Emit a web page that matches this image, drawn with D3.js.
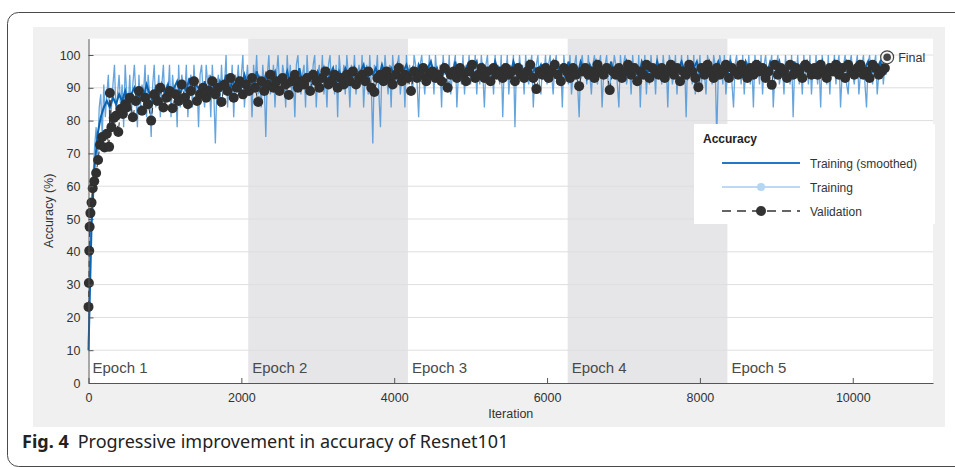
<!DOCTYPE html>
<html>
<head>
<meta charset="utf-8">
<script src="https://cdn.jsdelivr.net/npm/d3@7"></script>
<style>
  body { margin: 0; background: #fff; }
  svg { display: block; }
</style>
</head>
<body>
<svg id="chart" width="955" height="467"></svg>
<script>
// epochs and axes
const epochNames = ['Epoch 1', 'Epoch 2', 'Epoch 3', 'Epoch 4', 'Epoch 5'];
const epochLength = 2090;
const xTicks = [0, 2000, 4000, 6000, 8000, 10000];
const yTicks = [0, 10, 20, 30, 40, 50, 60, 70, 80, 90, 100];

// raw training accuracy, one value every 20 iterations
const trainStep = 20;
const trainAcc = [
    12, 38, 55, 63, 72, 78, 69, 84, 88, 75, 91, 81, 88, 94, 78, 84, 91, 97, 81, 88, 94, 84, 91, 78, 97,
    88, 84, 94, 81, 91, 97, 88, 78, 94, 84, 91, 88, 97, 81, 94, 88, 75, 91, 97, 84, 88, 94, 81, 91, 97,
    84, 91, 88, 97, 81, 94, 88, 91, 78, 97, 84, 94, 91, 88, 97, 81, 91, 94, 84, 97, 88, 91, 78, 94, 97,
    88, 84, 97, 91, 94, 81, 97, 88, 73, 91, 94, 84, 97, 88, 91, 100, 84, 94, 88, 97, 81, 94, 91, 97, 88,
    94, 100, 84, 91, 97, 88, 94, 81, 97, 91, 100, 88, 94, 84, 97, 91, 75, 94, 100, 88, 91, 97, 84, 94, 100,
    91, 88, 97, 94, 84, 100, 91, 97, 88, 94, 81, 97, 100, 91, 88, 94, 97, 84, 100, 91, 94, 88, 97, 100, 84,
    94, 97, 91, 100, 88, 94, 84, 97, 100, 91, 94, 88, 97, 81, 100, 94, 91, 97, 88, 100, 94, 84, 97, 91, 100,
    88, 94, 97, 91, 100, 84, 94, 97, 88, 100, 91, 73, 97, 94, 100, 88, 78, 97, 91, 100, 94, 88, 97, 84, 100,
    94, 91, 97, 100, 88, 94, 97, 84, 100, 91, 97, 94, 88, 100, 97, 91, 81, 97, 100, 94, 88, 97, 91, 100, 94,
    97, 88, 100, 94, 91, 97, 84, 100, 94, 97, 91, 100, 88, 94, 97, 100, 84, 94, 97, 91, 100, 88, 97, 94, 100,
    91, 97, 94, 100, 88, 97, 91, 100, 94, 84, 97, 100, 91, 94, 97, 88, 100, 94, 97, 91, 100, 81, 97, 94, 100,
    88, 97, 94, 100, 78, 97, 91, 100, 94, 97, 88, 100, 94, 91, 97, 100, 84, 94, 97, 100, 91, 88, 97, 94, 100,
    91, 97, 100, 94, 88, 97, 100, 91, 94, 97, 84, 100, 94, 97, 91, 100, 88, 94, 97, 100, 91, 81, 97, 100, 94,
    97, 91, 100, 94, 88, 97, 100, 94, 91, 97, 100, 84, 94, 97, 100, 91, 88, 97, 94, 100, 97, 91, 84, 100, 94,
    97, 100, 91, 94, 97, 88, 100, 94, 97, 91, 100, 84, 97, 94, 100, 88, 97, 91, 100, 94, 97, 88, 100, 94, 97,
    91, 100, 94, 97, 84, 100, 97, 91, 94, 100, 88, 97, 94, 100, 91, 97, 81, 100, 94, 97, 91, 100, 88, 97, 94,
    100, 91, 97, 94, 88, 100, 97, 94, 91, 100, 97, 75, 94, 100, 97, 91, 100, 88, 94, 97, 100, 91, 84, 97, 100,
    94, 97, 91, 100, 88, 97, 94, 100, 91, 97, 84, 100, 94, 97, 91, 100, 88, 97, 100, 94, 91, 97, 100, 84, 94,
    97, 100, 91, 94, 97, 88, 100, 94, 97, 91, 100, 81, 97, 94, 100, 91, 97, 88, 100, 94, 97, 91, 100, 88, 97,
    94, 100, 91, 97, 84, 100, 94, 97, 91, 100, 88, 97, 94, 100, 91, 97, 100, 84, 94, 97, 100, 91, 88, 97, 100,
    94, 91, 97, 100, 88, 94, 97, 100, 91, 84, 97, 100, 94, 91, 97, 100, 88, 94, 97, 100, 91, 97, 94
];

// smoothed training accuracy, one value every 40 iterations
const smoothStep = 40;
const smoothAcc = [
    10, 48, 66, 76, 81, 84, 86, 84, 87, 85, 88, 86, 89, 85, 88, 90, 86, 89, 87, 91, 88, 86, 90, 87, 91,
    88, 91, 87, 90, 92, 88, 91, 89, 93, 88, 91, 90, 87, 92, 89, 93, 90, 88, 92, 90, 94, 89, 92, 91, 93,
    90, 94, 91, 93, 89, 95, 92, 90, 94, 91, 93, 95, 90, 93, 92, 95, 91, 94, 92, 96, 91, 94, 93, 95, 92,
    95, 93, 96, 92, 94, 96, 91, 95, 93, 96, 94, 92, 96, 93, 95, 97, 92, 95, 94, 96, 93, 97, 94, 92, 96,
    94, 97, 93, 95, 97, 94, 96, 92, 97, 95, 93, 96, 98, 94, 96, 93, 97, 95, 96, 94, 98, 93, 96, 95, 97,
    94, 96, 98, 93, 97, 95, 96, 94, 98, 95, 93, 97, 96, 94, 98, 95, 97, 93, 96, 98, 94, 96, 95, 97, 94,
    97, 95, 98, 94, 96, 97, 93, 98, 95, 96, 94, 98, 96, 93, 97, 95, 98, 94, 96, 97, 95, 98, 93, 96, 97,
    95, 98, 94, 96, 97, 93, 98, 96, 95, 97, 94, 98, 95, 96, 93, 98, 97, 94, 96, 98, 95, 93, 97, 96, 98,
    94, 97, 96, 98, 93, 96, 98, 95, 97, 94, 98, 96, 95, 97, 93, 98, 96, 94, 97, 98, 95, 96, 94, 98, 97,
    95, 98, 94, 96, 97, 95, 98, 93, 97, 96, 98, 94, 96, 97, 95, 98, 94, 97, 96, 98, 93, 97, 95, 98, 96,
    94, 97, 98, 95, 96, 98, 94, 97, 96, 98, 95, 97
];

// validation accuracy: first iterations, then every 40 iterations from 500
const valEarlyIter = [0, 5, 10, 15, 25, 40, 55, 75, 100, 125, 150, 180, 210, 240, 270, 280, 300, 330, 360, 390, 420, 450, 480];
const valEarlyAcc = [23.2, 30.5, 40.3, 47.6, 51.8, 55.0, 59.4, 61.5, 64.0, 68.0, 72.6, 75.0, 71.8, 76.0, 72.0, 88.4, 78.0, 80.8, 81.5, 76.5, 83.5, 82.0, 85.0];
const valStart = 500;
const valStep = 40;
const valAcc = [
    84, 87, 81, 86, 89, 83, 87, 85, 80, 88, 86, 90, 84, 87, 89, 83.8, 88, 86, 91, 87, 85, 89, 92, 86, 88,
    90, 87, 89, 92, 88, 90, 85.7, 91, 89, 93, 87, 90, 92, 88, 91, 89, 93, 90, 85.7, 92, 89, 91, 94, 90, 92,
    89, 93, 91, 87.8, 92, 94, 90, 92, 91, 93, 89, 94, 92, 90, 93, 95, 91, 92, 94, 90, 93, 91, 94, 92, 95,
    91, 93, 94, 92, 95, 90, 88.7, 93, 94, 92, 95, 93, 91, 94, 96, 92, 94, 93, 89, 95, 93, 94, 96, 92, 94,
    95, 93, 94, 92, 96, 90, 94, 95, 93, 96, 94, 92, 95, 97, 93, 94, 96, 93, 95, 92, 96, 94, 95, 93, 96,
    94, 95, 92, 96, 94, 93, 95, 97, 93, 89.6, 95, 94, 96, 93, 95, 97, 94, 92, 96, 95, 93, 96, 94, 90.5, 95,
    96, 94, 95, 93, 97, 95, 94, 96, 89.3, 95, 94, 96, 93, 95, 97, 94, 96, 92, 95, 94, 97, 93, 96, 95, 94,
    96, 93, 95, 97, 94, 96, 92, 95, 94, 97, 95, 93, 90.2, 96, 94, 97, 95, 93, 96, 94, 95, 97, 93, 96, 95,
    94, 97, 95, 93, 96, 94, 97, 95, 96, 93, 95, 90.9, 97, 94, 96, 95, 93, 97, 94, 96, 95, 93, 97, 96, 94,
    96, 94, 97, 95, 93, 96, 95, 97, 94, 96, 93, 97, 95, 94, 96, 97, 94, 95, 93, 97, 96, 94, 95, 96
];
const finalIter = 10450;
const finalAcc = 99.3;

const svg = d3.select('#chart');
const font = '"Liberation Sans", Arial, Helvetica, sans-serif';

// figure frame and grey panel
svg.append('rect')
    .attr('x', 7.5).attr('y', 12.5)
    .attr('width', 1000).attr('height', 454)
    .attr('rx', 11)
    .attr('fill', 'none')
    .attr('stroke', '#4a4a4a');

svg.append('rect')
    .attr('x', 33).attr('y', 27)
    .attr('width', 912).attr('height', 400)
    .attr('fill', '#f0f0f0');

const x = d3.scaleLinear().domain([0, 11050]).range([88.5, 933]);
const y = d3.scaleLinear().domain([0, 105]).range([383, 38.6]);

// plot background and epoch bands
svg.append('rect')
    .attr('x', x(0)).attr('y', y(105))
    .attr('width', x(11050) - x(0)).attr('height', y(0) - y(105))
    .attr('fill', '#fff');

svg.append('g')
    .selectAll('rect')
    .data(epochNames)
    .enter()
    .append('rect')
    .attr('x', (d, i) => x(i * epochLength))
    .attr('y', y(105))
    .attr('width', x(epochLength) - x(0))
    .attr('height', y(0) - y(105))
    .attr('fill', (d, i) => (i % 2 === 1 ? '#e6e6e9' : 'none'));

// horizontal grid
svg.append('g')
    .selectAll('line')
    .data(yTicks.filter((d) => d > 0))
    .enter()
    .append('line')
    .attr('x1', x(0)).attr('x2', x(11050))
    .attr('y1', (d) => y(d)).attr('y2', (d) => y(d))
    .attr('stroke', '#dedede')
    .attr('stroke-width', 1);

// training (raw)
const trainLine = d3.line()
    .x((d, i) => x(i * trainStep))
    .y((d) => y(d));
svg.append('path')
    .datum(trainAcc)
    .attr('fill', 'none')
    .attr('stroke', '#4a94d6')
    .attr('stroke-opacity', 0.85)
    .attr('stroke-width', 1.3)
    .attr('d', trainLine);

// training (smoothed)
const smoothLine = d3.line()
    .x((d, i) => x(i * smoothStep))
    .y((d) => y(d));
svg.append('path')
    .datum(smoothAcc)
    .attr('fill', 'none')
    .attr('stroke', '#0a64b4')
    .attr('stroke-width', 2)
    .attr('d', smoothLine);

// validation
const valPoints = valEarlyIter.map((it, i) => [it, valEarlyAcc[i]])
    .concat(valAcc.map((v, i) => [valStart + i * valStep, v]));

svg.append('path')
    .datum(valPoints)
    .attr('fill', 'none')
    .attr('stroke', '#333')
    .attr('stroke-width', 1)
    .attr('stroke-dasharray', '6,4')
    .attr('d', d3.line().x((d) => x(d[0])).y((d) => y(d[1])));

svg.append('g')
    .selectAll('circle')
    .data(valPoints)
    .enter()
    .append('circle')
    .attr('cx', (d) => x(d[0]))
    .attr('cy', (d) => y(d[1]))
    .attr('r', 5)
    .attr('fill', '#303030');

// final marker
svg.append('circle')
    .attr('cx', x(finalIter)).attr('cy', y(finalAcc))
    .attr('r', 6.5)
    .attr('fill', '#f4f4f4')
    .attr('stroke', '#444')
    .attr('stroke-width', 1.2);
svg.append('circle')
    .attr('cx', x(finalIter)).attr('cy', y(finalAcc))
    .attr('r', 3.8)
    .attr('fill', '#444');
svg.append('text')
    .attr('x', x(finalIter) + 11).attr('y', y(finalAcc) + 4.5)
    .attr('font-family', font).attr('font-size', 12.5)
    .attr('fill', '#333')
    .text('Final');

// axes
const xAxis = svg.append('g')
    .attr('transform', `translate(0,${y(0)})`)
    .call(d3.axisBottom(x).tickValues(xTicks).tickFormat(d3.format('d'))
        .tickSize(-5).tickSizeOuter(0).tickPadding(10));
const yAxis = svg.append('g')
    .attr('transform', `translate(${x(0)},0)`)
    .call(d3.axisLeft(y).tickValues(yTicks).tickSize(-5).tickSizeOuter(0).tickPadding(8));

[xAxis, yAxis].forEach((g) => {
    g.select('.domain').attr('stroke', '#555');
    g.selectAll('.tick line').attr('stroke', '#555');
    g.selectAll('.tick text')
        .attr('fill', '#333')
        .attr('font-family', font)
        .attr('font-size', 12.5);
});

svg.append('text')
    .attr('x', (x(0) + x(11050)) / 2).attr('y', 418)
    .attr('text-anchor', 'middle')
    .attr('font-family', font).attr('font-size', 12.5)
    .attr('fill', '#333')
    .text('Iteration');

svg.append('text')
    .attr('transform', `translate(53,${(y(0) + y(105)) / 2}) rotate(-90)`)
    .attr('text-anchor', 'middle')
    .attr('font-family', font).attr('font-size', 12.5)
    .attr('fill', '#333')
    .text('Accuracy (%)');

// epoch labels
svg.append('g')
    .selectAll('text')
    .data(epochNames)
    .enter()
    .append('text')
    .attr('x', (d, i) => x(i * epochLength) + 4)
    .attr('y', 373)
    .attr('font-family', font).attr('font-size', 15)
    .attr('fill', '#4a4a4a')
    .text((d) => d);

// legend
const legend = svg.append('g').attr('transform', 'translate(694,124)');
legend.append('rect')
    .attr('width', 241).attr('height', 100)
    .attr('fill', '#fff');
legend.append('text')
    .attr('x', 9).attr('y', 19)
    .attr('font-family', font).attr('font-size', 12).attr('font-weight', 'bold')
    .attr('fill', '#222')
    .text('Accuracy');

const legendItems = [
    { label: 'Training (smoothed)', color: '#1f78c8', width: 2, dash: null, marker: null },
    { label: 'Training', color: '#a9cdec', width: 1.5, dash: null, marker: '#b4d6f2' },
    { label: 'Validation', color: '#333', width: 1.5, dash: '9,6', marker: '#333' }
];
const item = legend.selectAll('g.item')
    .data(legendItems)
    .enter()
    .append('g')
    .attr('class', 'item')
    .attr('transform', (d, i) => `translate(0,${39 + i * 24})`);
item.append('line')
    .attr('x1', 28).attr('x2', 106)
    .attr('stroke', (d) => d.color)
    .attr('stroke-width', (d) => d.width)
    .attr('stroke-dasharray', (d) => d.dash);
item.filter((d) => d.marker)
    .append('circle')
    .attr('cx', 67)
    .attr('r', (d, i) => (i === 0 ? 4 : 5))
    .attr('fill', (d) => d.marker);
item.append('text')
    .attr('x', 116).attr('y', 4.5)
    .attr('font-family', font).attr('font-size', 12)
    .attr('fill', '#333')
    .text((d) => d.label);

// caption
const caption = svg.append('text')
    .attr('x', 22).attr('y', 448)
    .attr('font-family', '"Noto Sans", "Open Sans", sans-serif')
    .attr('font-size', 18)
    .attr('fill', '#222');
caption.append('tspan').attr('font-weight', 'bold').text('Fig. 4');
caption.append('tspan').attr('dx', 9).text('Progressive improvement in accuracy of Resnet101');
</script>
</body>
</html>
